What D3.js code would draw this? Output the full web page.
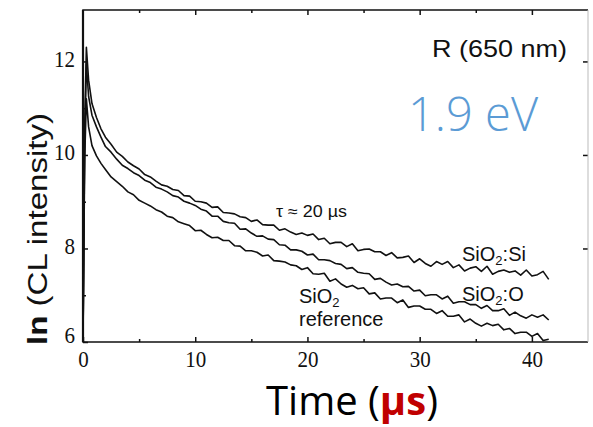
<!DOCTYPE html>
<html>
<head>
<meta charset="utf-8">
<script src="https://cdnjs.cloudflare.com/ajax/libs/d3/7.8.5/d3.min.js"></script>
<style>
  body { margin: 0; background: #fff; }
  svg { display: block; }
</style>
</head>
<body>
<div id="chart"></div>
<script>
// CL decay at 650 nm, three samples
const width = 593;
const height = 427;
const margin = {left: 83, right: 4, top: 10, bottom: 85};

// time axis in microseconds
const times = [0, 0.15, 0.3, 0.5, 0.8, 1.2, 1.6,
  2, 2.5, 3, 3.5, 4, 4.5, 5, 5.5, 6, 6.5, 7, 7.5, 8, 8.5, 9, 9.5,
  10, 10.5, 11, 11.5, 12, 12.5, 13, 13.5, 14, 14.5, 15, 15.5, 16, 16.5, 17, 17.5,
  18, 18.5, 19, 19.5, 20, 20.5, 21, 21.5, 22, 22.5, 23, 23.5, 24, 24.5, 25, 25.5,
  26, 26.5, 27, 27.5, 28, 28.5, 29, 29.5, 30, 30.5, 31, 31.5, 32, 32.5, 33, 33.5,
  34, 34.5, 35, 35.5, 36, 36.5, 37, 37.5, 38, 38.5, 39, 39.5, 40, 40.5, 41, 41.5];

// ln(CL intensity), SiO2:Si
const siO2Si = [6.0, 10.6, 12.3, 11.6, 11.1, 10.8, 10.56,
  10.38, 10.23, 10.06, 9.97, 9.85, 9.77, 9.70, 9.58, 9.53, 9.44, 9.36, 9.33, 9.26, 9.24, 9.13, 9.12,
  9.01, 9.00, 8.97, 8.88, 8.89, 8.77, 8.76, 8.74, 8.68, 8.66, 8.58, 8.61, 8.51, 8.50, 8.50, 8.39,
  8.42, 8.35, 8.30, 8.33, 8.28, 8.31, 8.19, 8.22, 8.10, 8.13, 8.13, 8.04, 8.10, 7.95, 7.98, 7.99,
  7.93, 7.93, 7.85, 7.91, 7.80, 7.81, 7.84, 7.70, 7.78, 7.68, 7.62, 7.72, 7.66, 7.72, 7.59, 7.65,
  7.52, 7.58, 7.61, 7.51, 7.62, 7.45, 7.51, 7.54, 7.49, 7.52, 7.43, 7.54, 7.41, 7.44, 7.51, 7.34];

// ln(CL intensity), SiO2:O
const siO2O = [6.0, 10.3, 11.95, 11.25, 10.85, 10.6, 10.38,
  10.18, 10.06, 9.91, 9.78, 9.71, 9.62, 9.56, 9.46, 9.41, 9.31, 9.27, 9.21, 9.13, 9.10, 9.01, 8.97,
  8.92, 8.84, 8.80, 8.69, 8.69, 8.58, 8.55, 8.54, 8.41, 8.42, 8.33, 8.26, 8.27, 8.20, 8.19, 8.08,
  8.07, 7.97, 7.97, 7.94, 7.86, 7.88, 7.76, 7.76, 7.74, 7.68, 7.66, 7.57, 7.59, 7.49, 7.47, 7.46,
  7.34, 7.36, 7.28, 7.22, 7.24, 7.18, 7.19, 7.09, 7.11, 6.99, 7.01, 7.01, 6.92, 6.98, 6.83, 6.86,
  6.86, 6.80, 6.80, 6.72, 6.78, 6.67, 6.67, 6.71, 6.57, 6.64, 6.56, 6.51, 6.58, 6.53, 6.58, 6.47];

// ln(CL intensity), SiO2 reference
const siO2Ref = [6.0, 9.9, 11.2, 10.6, 10.2, 9.98, 9.82,
  9.69, 9.53, 9.43, 9.33, 9.21, 9.15, 9.03, 8.97, 8.91, 8.83, 8.78, 8.69, 8.66, 8.57, 8.53, 8.49,
  8.38, 8.39, 8.30, 8.23, 8.24, 8.17, 8.17, 8.06, 8.05, 7.95, 7.95, 7.92, 7.84, 7.86, 7.74, 7.73,
  7.71, 7.65, 7.63, 7.55, 7.59, 7.46, 7.45, 7.47, 7.30, 7.35, 7.24, 7.17, 7.21, 7.14, 7.16, 7.03,
  7.05, 6.92, 6.94, 6.94, 6.84, 6.90, 6.74, 6.77, 6.77, 6.70, 6.70, 6.61, 6.67, 6.55, 6.55, 6.58,
  6.43, 6.49, 6.40, 6.34, 6.40, 6.35, 6.38, 6.26, 6.29, 6.18, 6.21, 6.21, 6.12, 6.18, 6.03, 6.06];

const xMajorTicks = [0, 10, 20, 30, 40];
const xMinorTicks = [5, 15, 25, 35];
const yMajorTicks = [6, 8, 10, 12];
const yMinorTicks = [7, 9, 11];

const svg = d3.select("#chart")
  .append("svg")
  .attr("width", width)
  .attr("height", height);

const x = d3.scaleLinear()
  .domain([0, 45])
  .range([margin.left, width - margin.right - 1]);

const y = d3.scaleLinear()
  .domain([6, 13.1])
  .range([height - margin.bottom, margin.top]);

const serif = "'Liberation Serif', 'Times New Roman', serif";
const sans = "'Liberation Sans', Arial, sans-serif";

// ticks, all pointing inward
function tickGroup(axis, transform, labels) {
  const g = svg.append("g")
    .attr("transform", transform)
    .call(axis);
  g.select(".domain").remove();
  g.selectAll(".tick line").attr("stroke", "#111").attr("stroke-width", 1.5);
  if (labels) {
    g.selectAll(".tick text")
      .attr("font-family", serif)
      .attr("font-size", 23)
      .attr("fill", "#111")
      .attr("textLength", d => String(d).length * 10.5)
      .attr("lengthAdjust", "spacingAndGlyphs");
  } else {
    g.selectAll(".tick text").remove();
  }
  return g;
}

const bottom = height - margin.bottom;
const right = width - margin.right - 1;

tickGroup(d3.axisBottom(x).tickValues(xMajorTicks).tickSize(-5).tickPadding(9).tickFormat(d3.format("d")),
  `translate(0,${bottom})`, true);
tickGroup(d3.axisBottom(x).tickValues(xMinorTicks).tickSize(-3), `translate(0,${bottom})`, false);
tickGroup(d3.axisTop(x).tickValues(xMajorTicks.slice(1)).tickSize(-5), `translate(0,${margin.top})`, false);
tickGroup(d3.axisTop(x).tickValues(xMinorTicks).tickSize(-3), `translate(0,${margin.top})`, false);

const yAxis = tickGroup(d3.axisLeft(y).tickValues(yMajorTicks).tickSize(-5).tickPadding(8),
  `translate(${margin.left},0)`, true);
yAxis.selectAll(".tick text")
  .attr("dy", d => d === 6 ? "0em" : "0.2em");
tickGroup(d3.axisLeft(y).tickValues(yMinorTicks).tickSize(-3), `translate(${margin.left},0)`, false);
tickGroup(d3.axisRight(y).tickValues(yMajorTicks.slice(1)).tickSize(-5), `translate(${right},0)`, false);

// frame
svg.append("path")
  .attr("d", `M${right},${margin.top}H${margin.left}V${bottom}H${right}`)
  .attr("fill", "none")
  .attr("stroke", "#111")
  .attr("stroke-width", 1.5);
svg.append("line")
  .attr("x1", margin.left).attr("x2", margin.left)
  .attr("y1", margin.top).attr("y2", bottom)
  .attr("stroke", "#111")
  .attr("stroke-width", 2.2);
svg.append("line")
  .attr("x1", right).attr("x2", right)
  .attr("y1", margin.top).attr("y2", bottom)
  .attr("stroke", "#bbb")
  .attr("stroke-width", 1);

// curves
const line = d3.line()
  .x((d, i) => x(times[i]))
  .y(d => y(d));

[siO2Si, siO2O, siO2Ref].forEach(series => {
  svg.append("path")
    .datum(series)
    .attr("d", line)
    .attr("fill", "none")
    .attr("stroke", "#111")
    .attr("stroke-width", 1.6)
    .attr("stroke-linejoin", "round");
});

// annotations inside the plot
function sio2(xp, yp, suffix) {
  const t = svg.append("text")
    .attr("x", xp).attr("y", yp)
    .attr("font-family", sans)
    .attr("font-size", 20)
    .attr("fill", "#111");
  t.append("tspan").text("SiO");
  t.append("tspan").attr("font-size", 13).attr("dy", 4).text("2");
  t.append("tspan").attr("dy", -4).text(suffix);
  return t;
}
sio2(462, 261, ":Si");
sio2(462, 301, ":O");
sio2(299, 303, "");
svg.append("text")
  .attr("x", 299).attr("y", 326)
  .attr("font-family", sans)
  .attr("font-size", 20)
  .attr("fill", "#111")
  .text("reference");

svg.append("text")
  .attr("x", 276).attr("y", 217)
  .attr("font-family", sans)
  .attr("font-size", 16)
  .attr("fill", "#111")
  .attr("textLength", 71)
  .attr("lengthAdjust", "spacingAndGlyphs")
  .text("τ ≈ 20 µs");

svg.append("text")
  .attr("x", 432).attr("y", 57)
  .attr("font-family", sans)
  .attr("font-size", 24)
  .attr("fill", "#111")
  .attr("textLength", 135)
  .attr("lengthAdjust", "spacingAndGlyphs")
  .text("R (650 nm)");

svg.append("text")
  .attr("x", 408).attr("y", 131)
  .attr("font-family", "'Open Sans', sans-serif")
  .attr("font-weight", 300)
  .attr("font-size", 47)
  .attr("fill", "#5b9bd5")
  .text("1.9 eV");

// y axis title
const yTitle = svg.append("text")
  .attr("transform", "translate(47,229) rotate(-90)")
  .attr("text-anchor", "middle")
  .attr("font-family", sans)
  .attr("font-size", 27)
  .attr("fill", "#111")
  .attr("textLength", 232)
  .attr("lengthAdjust", "spacingAndGlyphs");
yTitle.append("tspan").attr("font-weight", "bold").text("ln");
yTitle.append("tspan").text(" (CL intensity)");

// x axis title
const xTitle = svg.append("text")
  .attr("x", 352).attr("y", 415)
  .attr("text-anchor", "middle")
  .attr("font-family", "'Open Sans', sans-serif")
  .attr("font-size", 40)
  .attr("fill", "#000");
xTitle.append("tspan").text("Time (");
xTitle.append("tspan").attr("font-weight", "bold").attr("fill", "#c00000").text("µs");
xTitle.append("tspan").text(")");
</script>
</body>
</html>
